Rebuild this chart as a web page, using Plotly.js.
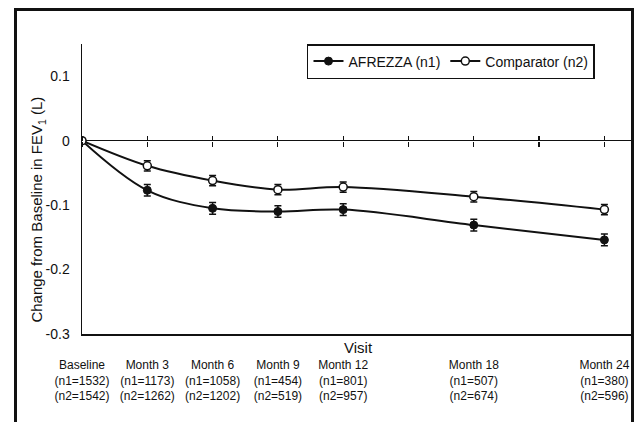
<!DOCTYPE html>
<html>
<head>
<meta charset="utf-8">
<script src="https://cdn.plot.ly/plotly-3.0.1.min.js"></script>
<style>
  html, body { margin: 0; padding: 0; background: #fff; overflow: hidden; }
  #wrap { position: relative; width: 637px; height: 422px; }
  #chart { position: absolute; left: 0; top: 0; width: 637px; height: 422px; }
  #frame { position: absolute; left: 14px; top: 8px; width: 614px; height: 500px;
           border: 3px solid #111; pointer-events: none; }
</style>
</head>
<body>
<div id="wrap">
  <div id="chart"></div>
  <div id="frame"></div>
</div>
<script>
// ---- data ----
const months = [0, 3, 6, 9, 12, 18, 24];
const visitNames = ["Baseline", "Month 3", "Month 6", "Month 9", "Month 12", "Month 18", "Month 24"];
const n1 = [1532, 1173, 1058, 454, 801, 507, 380];
const n2 = [1542, 1262, 1202, 519, 957, 674, 596];
const afrezza = [0, -0.077, -0.105, -0.110, -0.107, -0.131, -0.154];
const afrezzaErr = [0, 0.009, 0.009, 0.009, 0.009, 0.009, 0.009];
const comparator = [0, -0.039, -0.062, -0.076, -0.072, -0.087, -0.107];
const comparatorErr = [0, 0.008, 0.008, 0.008, 0.008, 0.008, 0.008];
const tickMonths = [0, 3, 6, 9, 12, 15, 18, 21, 24];
const yTicks = [-0.3, -0.2, -0.1, 0, 0.1];

const FONT = '"Liberation Sans", Arial, Helvetica, sans-serif';
const ticktext = visitNames.map((v, i) => v + '<br>(n1=' + n1[i] + ')<br>(n2=' + n2[i] + ')');
const xRange = [0, 25.36];
const yRange = [-0.3, 0.15];
const zeroPos = (0 - yRange[0]) / (yRange[1] - yRange[0]);

const traces = [
  {
    name: 'AFREZZA (n1)', x: months, y: afrezza, type: 'scatter', mode: 'lines+markers',
    line: { color: '#111', width: 2, shape: 'spline', smoothing: 1 },
    marker: { color: '#111', size: 8, line: { color: '#111', width: 1 } },
    error_y: { type: 'data', array: afrezzaErr, visible: true, color: '#111', thickness: 1.5, width: 3.5 }
  },
  {
    name: 'Comparator (n2)', x: months, y: comparator, type: 'scatter', mode: 'lines+markers',
    line: { color: '#111', width: 2, shape: 'spline', smoothing: 1 },
    marker: { color: '#fff', size: 8, line: { color: '#111', width: 1.5 } },
    error_y: { type: 'data', array: comparatorErr, visible: true, color: '#111', thickness: 1.5, width: 3.5 }
  },
  // invisible helper traces so the tick-only axes are rendered
  { x: [0], y: [0], xaxis: 'x2', yaxis: 'y', mode: 'markers', marker: { opacity: 0 }, showlegend: false, hoverinfo: 'skip' },
  { x: [0], y: [0], xaxis: 'x3', yaxis: 'y', mode: 'markers', marker: { opacity: 0 }, showlegend: false, hoverinfo: 'skip' }
];

const layout = {
  width: 637, height: 422,
  margin: { l: 82, r: 3, t: 44, b: 88 },
  paper_bgcolor: '#fff', plot_bgcolor: '#fff',
  font: { family: FONT, color: '#111', size: 13 },
  showlegend: true,
  legend: {
    orientation: 'h', x: 0.4076, y: 1, xanchor: 'left', yanchor: 'top',
    bordercolor: '#111', borderwidth: 1.5, bgcolor: '#fff',
    font: { family: FONT, size: 14, color: '#111' },
    itemwidth: 30
  },
  xaxis: {
    range: xRange, showgrid: false, zeroline: false,
    showline: true, linecolor: '#111', linewidth: 1.5,
    tickmode: 'array', tickvals: months, ticktext: ticktext, ticks: '',
    ticklabelstandoff: 19,
    tickfont: { family: FONT, size: 12, color: '#111' }
  },
  xaxis2: {
    range: xRange, overlaying: 'x', anchor: 'free', position: zeroPos, side: 'bottom',
    showgrid: false, zeroline: false, showline: false, showticklabels: false,
    tickmode: 'array', tickvals: tickMonths, ticks: 'outside', ticklen: 5, tickwidth: 1.2, tickcolor: '#111'
  },
  xaxis3: {
    range: xRange, overlaying: 'x', anchor: 'free', position: zeroPos, side: 'top',
    showgrid: false, zeroline: false, showline: false, showticklabels: false,
    tickmode: 'array', tickvals: tickMonths, ticks: 'outside', ticklen: 5, tickwidth: 1.2, tickcolor: '#111'
  },
  yaxis: {
    range: yRange, showgrid: false,
    zeroline: true, zerolinecolor: '#111', zerolinewidth: 1.5,
    showline: true, linecolor: '#111', linewidth: 1.5,
    tickmode: 'array', tickvals: yTicks, ticktext: yTicks.map(v => v === 0 ? '0' : v.toFixed(1)),
    ticks: '', ticklabelstandoff: 8,
    tickfont: { family: FONT, size: 14, color: '#111' }
  },
  annotations: [
    {
      text: 'Visit', xref: 'paper', yref: 'paper', x: 0.5, y: 0, xanchor: 'center', yanchor: 'top',
      yshift: -3, showarrow: false, font: { family: FONT, size: 15, color: '#111' }
    },
    {
      text: 'Change from Baseline in FEV<sub>1</sub> (L)', xref: 'paper', yref: 'paper',
      x: -0.0797, y: 0.429, xanchor: 'center', yanchor: 'middle', textangle: -90,
      showarrow: false, font: { family: FONT, size: 15, color: '#111' }
    }
  ]
};

Plotly.newPlot('chart', traces, layout, { displayModeBar: false, staticPlot: true });
</script>
</body>
</html>
